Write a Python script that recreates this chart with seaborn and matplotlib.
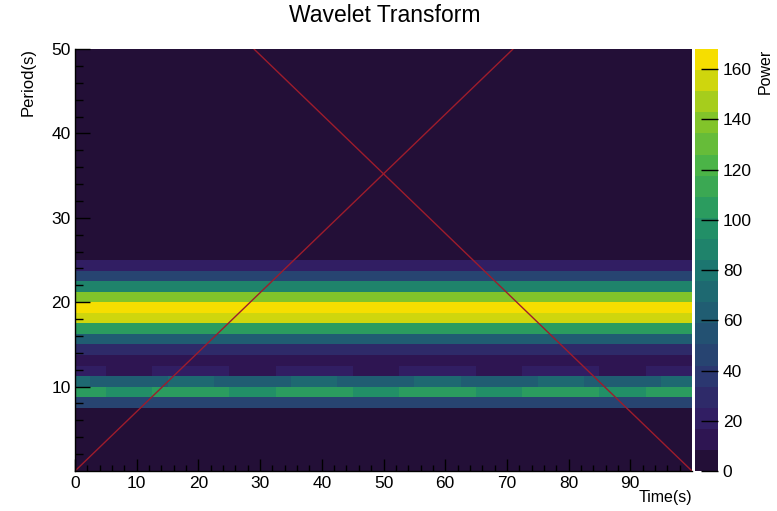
import numpy as np
import matplotlib
matplotlib.use("Agg")
import matplotlib.pyplot as plt
from matplotlib.colors import LinearSegmentedColormap, ListedColormap
import seaborn as sns

# ---------------- data ----------------
time_step = 2.5          # s per time bin
period_step = 1.25       # s per period bin
n_time_bins = 40
n_period_bins = 40

# power per period bin (rows, bottom -> top), uniform in time
period_profile = [3, 3, 3, 3, 3, 4, 46, 0, 0, 0,
                  10, 28, 62, 106, 155, 165, 138, 88, 46, 22,
                  3, 3, 3, 3, 3, 3, 3, 3, 3, 3,
                  3, 3, 3, 3, 3, 3, 3, 3, 3, 3]

# rows modulated in time
row_8p75 = [105, 105, 97, 97, 97, 105, 105, 105, 105, 105,
            97, 97, 97, 105, 105, 105, 105, 105, 97, 97,
            97, 105, 105, 105, 105, 105, 97, 97, 97, 105,
            105, 105, 105, 105, 97, 97, 97, 105, 105, 105]
row_10p0 = [70, 62, 62, 62, 62, 62, 70, 70, 70, 62,
            62, 62, 62, 62, 70, 70, 70, 62, 62, 62,
            62, 62, 70, 70, 70, 62, 62, 62, 62, 62,
            70, 70, 70, 62, 62, 62, 62, 62, 70, 70]
row_11p25 = [20, 20, 12, 12, 12, 20, 20, 20, 20, 20,
             12, 12, 12, 20, 20, 20, 20, 20, 12, 12,
             12, 20, 20, 20, 20, 20, 12, 12, 12, 20,
             20, 20, 20, 20, 12, 12, 12, 20, 20, 20]

# cone of influence
coi_rise_time = [0, 71]
coi_rise_period = [0, 50]
coi_fall_time = [29, 100]
coi_fall_period = [50, 0]

x_major = [0, 10, 20, 30, 40, 50, 60, 70, 80, 90]
y_major = [10, 20, 30, 40, 50]
power_ticks = [0, 20, 40, 60, 80, 100, 120, 140, 160]
power_max = 168
n_levels = 20

# ---------------- build matrix ----------------
power = np.tile(np.array(period_profile, dtype=float)[:, None], (1, n_time_bins))
power[7] = row_8p75
power[8] = row_10p0
power[9] = row_11p25

# ROOT kViridis palette, quantised to 20 contour levels
stops = [0.0, 0.125, 0.25, 0.375, 0.5, 0.625, 0.75, 0.875, 1.0]
red = [26, 51, 43, 33, 28, 35, 74, 144, 246]
green = [9, 24, 55, 87, 118, 150, 180, 200, 222]
blue = [30, 96, 112, 114, 112, 101, 72, 35, 0]
pal = LinearSegmentedColormap.from_list(
    "rootviridis",
    [(s, (r / 255, g / 255, b / 255)) for s, r, g, b in zip(stops, red, green, blue)],
    N=255)
level_colors = [pal(int((i + 0.99) * 255 / n_levels) / 254) for i in range(n_levels)]
cmap = ListedColormap(level_colors)

# ---------------- plot ----------------
sns.set_theme(style="white")
plt.rcParams['font.family'] = ['Liberation Sans', 'DejaVu Sans']
plt.rcParams['text.color'] = 'black'

W, H = 777, 511
fig = plt.figure(figsize=(W / 100, H / 100), dpi=100)
ax = fig.add_axes([75 / W, 1 - 471 / H, 617 / W, 422 / H])
cax = fig.add_axes([695 / W, 1 - 471 / H, 23 / W, 422 / H])

sns.heatmap(power, ax=ax, cbar_ax=cax, cmap=cmap, vmin=0, vmax=power_max,
            cbar_kws={'ticks': power_ticks}, xticklabels=False, yticklabels=False)
ax.set_xlim(0, n_time_bins)
ax.set_ylim(0, n_period_bins)
ax.set_axisbelow(False)
cax.set_axisbelow(False)

line_color = "#9e1c2c"
ax.plot(np.array(coi_rise_time) / time_step, np.array(coi_rise_period) / period_step,
        color=line_color, lw=1.0, clip_on=True)
ax.plot(np.array(coi_fall_time) / time_step, np.array(coi_fall_period) / period_step,
        color=line_color, lw=1.0, clip_on=True)

ax.set_xticks(np.array(x_major) / time_step)
ax.set_xticklabels([str(v) for v in x_major])
ax.set_xticks(np.arange(0, 100, 2) / time_step, minor=True)
ax.set_yticks(np.array(y_major) / period_step)
ax.set_yticklabels([str(v) for v in y_major])
ax.set_yticks(np.arange(2, 50, 2) / period_step, minor=True)

for side in ['left', 'bottom']:
    ax.spines[side].set_visible(True)
    ax.spines[side].set_color('black')
    ax.spines[side].set_linewidth(1.0)
    ax.spines[side].set_zorder(5)
for side in ['top', 'right']:
    ax.spines[side].set_visible(False)

tick_fs = 12.5
ax.tick_params(axis='x', which='major', direction='in', length=9, width=1,
               color='black', labelcolor='black', labelsize=tick_fs, pad=3.5, bottom=True)
ax.tick_params(axis='x', which='minor', direction='in', length=4.5, width=1,
               color='black', bottom=True)
ax.tick_params(axis='y', which='major', direction='in', length=10.5, width=1,
               color='black', labelcolor='black', labelsize=tick_fs, pad=3, left=True)
ax.tick_params(axis='y', which='minor', direction='in', length=5.5, width=1,
               color='black', left=True)

cbar = ax.collections[0].colorbar
cbar.outline.set_visible(False)
cax.yaxis.set_ticks_position('right')
cax.tick_params(axis='y', which='major', direction='in', length=12, width=1,
                color='black', labelcolor='black', labelsize=tick_fs, pad=3.5, right=True)
cax.minorticks_off()

fig.text(385 / W, 1 - 16 / H, "Wavelet Transform", ha='center', va='center',
         fontsize=16.5, color='black')
fig.text(28 / W, 1 - 48 / H, "Period(s)", rotation=90, ha='center', va='top',
         fontsize=12, color='black')
fig.text(692 / W, 1 - 497 / H, "Time(s)", ha='right', va='center',
         fontsize=11.5, color='black')
fig.text(765 / W, 1 - 49 / H, "Power", rotation=90, ha='center', va='top',
         fontsize=11.5, color='black')

fig.savefig("out.png", dpi=100)
